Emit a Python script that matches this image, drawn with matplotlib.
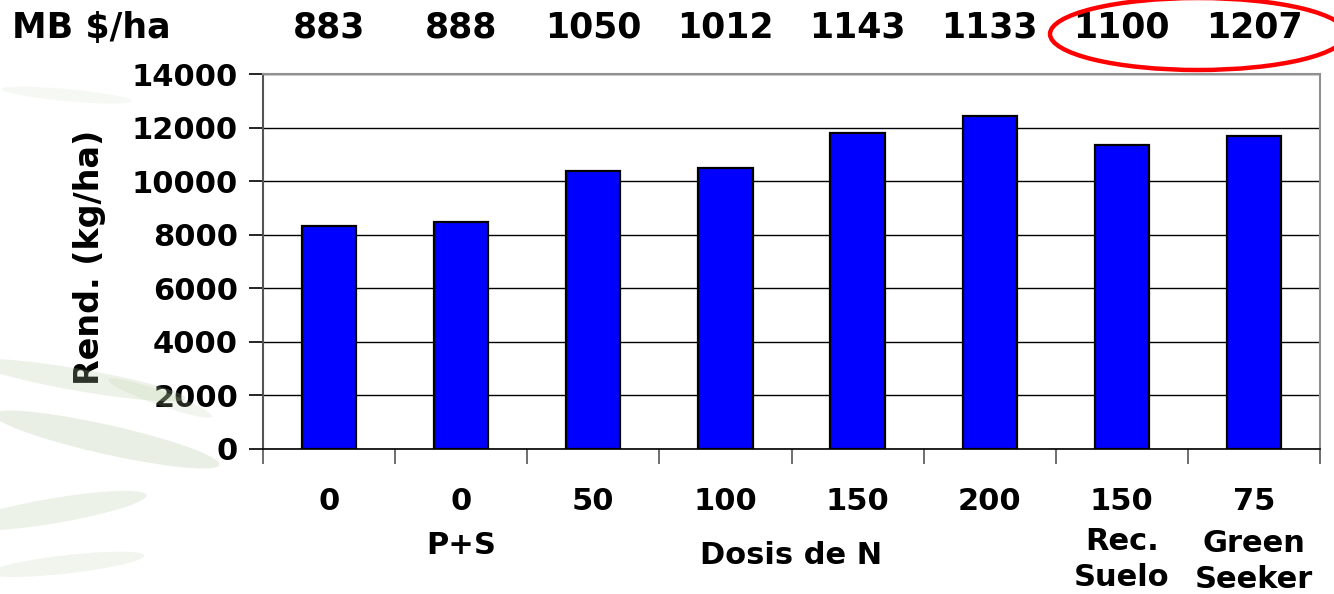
import matplotlib
matplotlib.use("Agg")
import matplotlib.pyplot as plt
import numpy as np
from matplotlib.patches import Ellipse
from matplotlib.transforms import blended_transform_factory

# data
dosis = ["0", "0", "50", "100", "150", "200", "150", "75"]
rendimiento = [8320, 8470, 10370, 10490, 11790, 12420, 11340, 11680]
margen_bruto = ["883", "888", "1050", "1012", "1143", "1133", "1100", "1207"]
y_ticks = [0, 2000, 4000, 6000, 8000, 10000, 12000, 14000]

plt.rcParams["font.family"] = ["DejaVu Sans"]
plt.rcParams["font.weight"] = "bold"
FS = 22
FS_TOP = 25

W, H = 1334, 594
fig = plt.figure(figsize=(W / 100, H / 100), dpi=100)
fig.patch.set_facecolor("white")

# faint leaf decoration on the left
for cx, cy, w, h, ang, a in [(0.06, 0.36, 0.17, 0.035, -22, 0.25), (0.08, 0.26, 0.19, 0.045, -28, 0.3),
                             (0.04, 0.14, 0.15, 0.04, 22, 0.25), (0.12, 0.33, 0.10, 0.02, -40, 0.2),
                             (0.05, 0.05, 0.12, 0.03, 15, 0.2), (0.05, 0.84, 0.10, 0.02, -12, 0.12)]:
    fig.patches.append(Ellipse((cx, cy), w, h, angle=ang, transform=fig.transFigure,
                               facecolor="#b9cda6", edgecolor="none", alpha=a, zorder=0))

left, right, top, bottom = 263, 1320, 74, 449
ax = fig.add_axes([left / W, 1 - bottom / H, (right - left) / W, (bottom - top) / H])
ax.set_facecolor("white")

x = np.arange(len(rendimiento))
ax.bar(x, rendimiento, width=0.41, color="#0000FF", edgecolor="black", linewidth=1.6, zorder=3)

ax.set_xlim(-0.5, len(x) - 0.5)
ax.set_ylim(0, 14000)
ax.set_yticks(y_ticks)
ax.set_yticklabels([str(v) for v in y_ticks], fontsize=FS, fontweight="bold")
ax.yaxis.grid(True, color="black", linewidth=1.0, zorder=1)
ax.tick_params(axis="y", direction="out", length=10, width=1.2, color="black", pad=8)

ax.set_xticks(np.arange(-0.5, len(x)))
ax.set_xticklabels([])
ax.tick_params(axis="x", direction="out", length=11, width=1.2, color="#555555")

ax.spines["left"].set_color("#555555")
ax.spines["left"].set_linewidth(1.5)
ax.spines["bottom"].set_color("black")
ax.spines["bottom"].set_linewidth(1.2)
for s in ("top", "right"):
    ax.spines[s].set_color("#909090")
    ax.spines[s].set_linewidth(1.5)

ax.set_ylabel("Rend. (kg/ha)", fontsize=24, fontweight="bold")
ax.yaxis.set_label_coords(-0.149, 0.51)

# category labels below the axis
tr = blended_transform_factory(ax.transData, fig.transFigure)
for i, d in enumerate(dosis):
    ax.text(i, 1 - 502 / H, d, transform=tr, ha="center", va="center", fontsize=FS, fontweight="bold")
extra = [(1, 545, "P+S"), (3.5, 556, "Dosis de N"), (6, 541, "Rec."), (6, 578, "Suelo"),
         (7, 543, "Green"), (7, 580, "Seeker")]
for xi, py, txt in extra:
    ax.text(xi, 1 - py / H, txt, transform=tr, ha="center", va="center", fontsize=FS, fontweight="bold")

# margen bruto row on top
fig.text(12 / W, 1 - 28 / H, "MB $/ha", ha="left", va="center", fontsize=FS_TOP, fontweight="bold")
for xi, mb in enumerate(margen_bruto):
    ax.text(xi, 1 - 28 / H, mb, transform=tr, ha="center", va="center", fontsize=FS_TOP, fontweight="bold")

fig.patches.append(Ellipse((1198 / W, 1 - 34 / H), 296 / W, 72 / H, transform=fig.transFigure,
                           facecolor="none", edgecolor="#FF0000", linewidth=3.2, zorder=5))

fig.savefig("out.png", dpi=100)
